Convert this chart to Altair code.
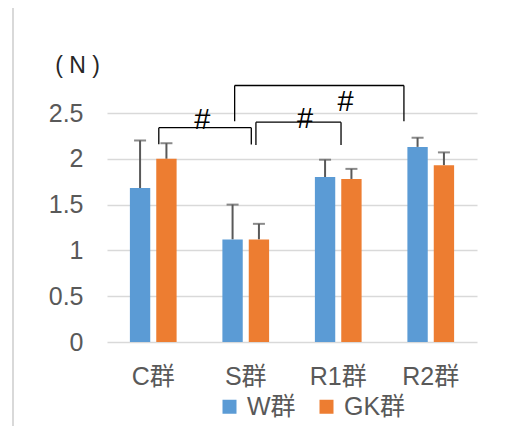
import altair as alt
import pandas as pd

# ---- data ----
groups = ["C群", "S群", "R1群", "R2群"]
series = ["W群", "GK群"]
w_means = [1.68, 1.12, 1.80, 2.13]
gk_means = [2.00, 1.12, 1.78, 1.93]
w_errs = [0.52, 0.38, 0.19, 0.10]
gk_errs = [0.17, 0.17, 0.11, 0.14]
y_ticks = [0, 0.5, 1, 1.5, 2, 2.5]

# significance brackets: x in group units (0..4 across the plot), y in N
br_x1 = [0.56, 1.61, 1.38]
br_x2 = [1.56, 2.53, 3.21]
br_top = [2.34, 2.40, 2.80]
br_low1 = [2.16, 2.15, 2.41]
br_low2 = [2.155, 2.15, 2.41]
sig_x = [1.03, 2.14, 2.58]
sig_y = [2.42, 2.43, 2.62]
sig_text = ["#", "#", "#"]

FONT = "Liberation Sans, Noto Sans CJK SC"
GRAY = "#595959"
GRID = "#D9D9D9"

rows = []
for g, m, e in zip(groups, w_means, w_errs):
    rows.append({"group": g, "series": series[0], "mean": m, "hi": round(m + e, 3)})
for g, m, e in zip(groups, gk_means, gk_errs):
    rows.append({"group": g, "series": series[1], "mean": m, "hi": round(m + e, 3)})
df = pd.DataFrame(rows)

br = pd.DataFrame({"x1": br_x1, "x2": br_x2, "top": br_top, "low1": br_low1, "low2": br_low2})
sig = pd.DataFrame({"sx": sig_x, "sy": sig_y, "t": sig_text})

yscale = alt.Scale(domain=[0, 2.5], nice=False)
yaxis = alt.Axis(
    values=y_ticks, format="~g", title="( N )", titleAngle=0, titleX=-30, titleY=-48,
    titleAlign="center", titleBaseline="middle", titleFontSize=23, titleColor="#262626",
    titleFontWeight="normal", titleFont=FONT, labelPadding=24, grid=True,
    gridColor=GRID, gridWidth=1.5, domain=False, ticks=False,
    labelFontSize=25, labelFont=FONT, labelColor=GRAY,
)
xaxis = alt.Axis(title=None, labelAngle=0, domain=False, ticks=False, labelPadding=22,
                 labelFontSize=25, labelFont=FONT, labelColor=GRAY)
xscale = alt.Scale(paddingInner=0.495, paddingOuter=0.2475)
xoff = alt.XOffset("series:N", sort=series, scale=alt.Scale(paddingInner=0.228, paddingOuter=0))
X = alt.X("group:N", sort=groups, scale=xscale, axis=xaxis)

bars = alt.Chart(df).mark_bar().encode(
    x=X, xOffset=xoff,
    y=alt.Y("mean:Q", scale=yscale, axis=yaxis),
    color=alt.Color("series:N", sort=series,
                    scale=alt.Scale(domain=series, range=["#5B9BD5", "#ED7D31"]),
                    legend=alt.Legend(title=None, orient="none", legendX=110, legendY=281,
                                      direction="horizontal", symbolType="square",
                                      symbolSize=196, symbolStrokeWidth=0, labelFontSize=25,
                                      labelColor=GRAY, labelFont=FONT, columnPadding=18,
                                      labelOffset=5)),
)
err = alt.Chart(df).mark_rule(color=GRAY, strokeWidth=2).encode(
    x=X, xOffset=xoff,
    y=alt.Y("mean:Q", scale=yscale, axis=yaxis), y2="hi:Q",
)
caps = alt.Chart(df).mark_tick(color=GRAY, thickness=2, size=12).encode(
    x=X, xOffset=xoff,
    y=alt.Y("hi:Q", scale=yscale, axis=yaxis),
)
partA = alt.layer(err, bars, caps)

BX = alt.Scale(domain=[0, 4], nice=False, zero=False)
h = alt.Chart(br).mark_rule(color="#000000", strokeWidth=1.3).encode(
    x=alt.X("x1:Q", scale=BX, axis=None), x2="x2:Q",
    y=alt.Y("top:Q", scale=yscale, axis=yaxis),
)
v1 = alt.Chart(br).mark_rule(color="#000000", strokeWidth=1.3).encode(
    x=alt.X("x1:Q", scale=BX, axis=None),
    y=alt.Y("low1:Q", scale=yscale, axis=yaxis), y2="top:Q",
)
v2 = alt.Chart(br).mark_rule(color="#000000", strokeWidth=1.3).encode(
    x=alt.X("x2:Q", scale=BX, axis=None),
    y=alt.Y("low2:Q", scale=yscale, axis=yaxis), y2="top:Q",
)
marks = alt.Chart(sig).mark_text(fontSize=29, color="#000000", baseline="middle",
                                 align="center", font=FONT).encode(
    x=alt.X("sx:Q", scale=BX, axis=None),
    y=alt.Y("sy:Q", scale=yscale, axis=yaxis),
    text="t:N",
)
one = pd.DataFrame({"k": [0]})
frame_l = alt.Chart(one).mark_rule(color=GRID, strokeWidth=2).encode(
    x=alt.value(-94), y=alt.value(-106), y2=alt.value(330))
frame_t = alt.Chart(one).mark_rule(color=GRID, strokeWidth=2).encode(
    x=alt.value(-95), x2=alt.value(420), y=alt.value(-106))
partB = alt.layer(h, v1, v2, marks, frame_l, frame_t)

chart = alt.layer(partA, partB).resolve_scale(x="independent").properties(
    width=370, height=229,
    autosize=alt.AutoSizeParams(type="none"),
    padding={"left": 99, "top": 105, "right": 24, "bottom": 84},
).configure_view(stroke=None)

chart.save("out.html", embed_options={"renderer": "svg", "actions": False})
